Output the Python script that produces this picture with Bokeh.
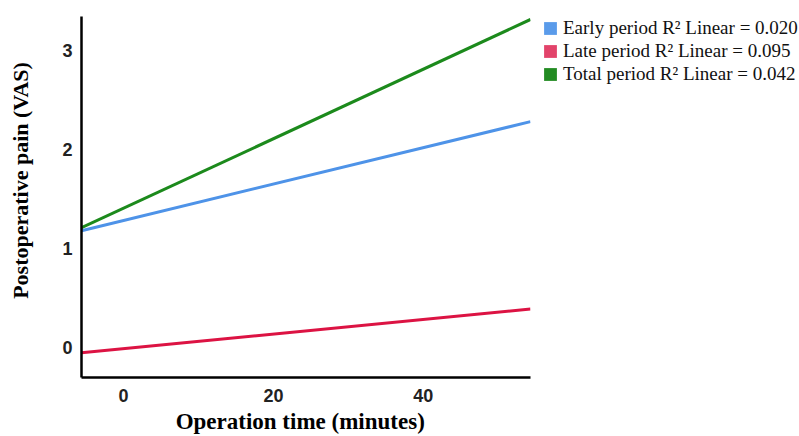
from bokeh.plotting import figure
from bokeh.layouts import row
from bokeh.models import Range1d, Legend, LegendItem, FixedTicker
from bokeh.embed import file_html
from bokeh.resources import INLINE

# Fitted regression lines (endpoints)
x_ends = [-5.6, 54.3]
early_y = [1.18, 2.28]
late_y = [-0.05, 0.39]
total_y = [1.21, 3.31]

series_names = ["Early period R\u00b2 Linear = 0.020",
                "Late period R\u00b2 Linear = 0.095",
                "Total period R\u00b2 Linear = 0.042"]
x_ticks = [0, 20, 40]
y_ticks = [0, 1, 2, 3]

colors = ["#4E93E8", "#DC1343", "#1C8A1C"]
legend_colors = ["#5A9BEA", "#E2436A", "#228B22"]

p = figure(width=535, height=436, output_backend="svg", toolbar_location=None,
           x_range=Range1d(-5.6, 54.3), y_range=Range1d(-0.30, 3.34),
           min_border_left=81, min_border_right=5, min_border_top=16, min_border_bottom=59)
p.outline_line_color = None
p.xgrid.visible = False
p.ygrid.visible = False

for ys, c in zip([early_y, late_y, total_y], colors):
    p.line(x_ends, ys, line_color=c, line_width=3)

for ax in (p.xaxis[0], p.yaxis[0]):
    ax.axis_line_width = 2.5
    ax.axis_line_color = "black"
    ax.major_tick_line_color = None
    ax.minor_tick_line_color = None
    ax.major_tick_out = 0
    ax.major_tick_in = 0
    ax.minor_tick_out = 0
    ax.major_label_text_font = "Liberation Sans"
    ax.major_label_text_font_style = "bold"
    ax.major_label_text_font_size = "18px"
    ax.major_label_text_color = "#222222"
    ax.axis_label_text_font = "Liberation Serif"
    ax.axis_label_text_font_style = "bold"
    ax.axis_label_text_font_size = "22px"
    ax.axis_label_text_color = "black"

p.xaxis.ticker = FixedTicker(ticks=x_ticks)
p.yaxis.ticker = FixedTicker(ticks=y_ticks)
p.xaxis.axis_label = "Operation time (minutes)\u00a0\u00a0"
p.yaxis.axis_label = "\u00a0\u00a0\u00a0\u00a0\u00a0\u00a0Postoperative pain (VAS)"
p.xaxis.axis_label_text_font_size = "23px"
p.xaxis.major_label_standoff = 11
p.xaxis.axis_label_standoff = 4
p.yaxis.major_label_standoff = 9
p.yaxis.axis_label_standoff = 26
p.yaxis.major_label_orientation = "horizontal"

# Legend panel (separate figure so the legend is not clipped by the plot frame)
q = figure(width=264, height=436, output_backend="svg", toolbar_location=None,
           x_range=Range1d(0, 1), y_range=Range1d(0, 1),
           min_border=0, min_border_left=7, min_border_right=0,
           min_border_top=0, min_border_bottom=0)
q.axis.visible = False
q.grid.visible = False
q.outline_line_color = None

items = []
for name, c in zip(series_names, legend_colors):
    r = q.rect(x=[0], y=[0], width=0, height=0, fill_color=c, line_color=None)
    items.append(LegendItem(label=name, renderers=[r]))

legend = Legend(items=items, location="top_left", border_line_color=None,
                background_fill_alpha=0, glyph_width=16, glyph_height=16,
                label_text_font="Liberation Serif", label_text_font_size="19px",
                label_text_color="#111111", spacing=0, padding=0, margin=0,
                label_standoff=5, label_height=23)
q.add_layout(legend)

layout = row(p, q, spacing=0)
open("out.html", "w").write(file_html(layout, INLINE))
